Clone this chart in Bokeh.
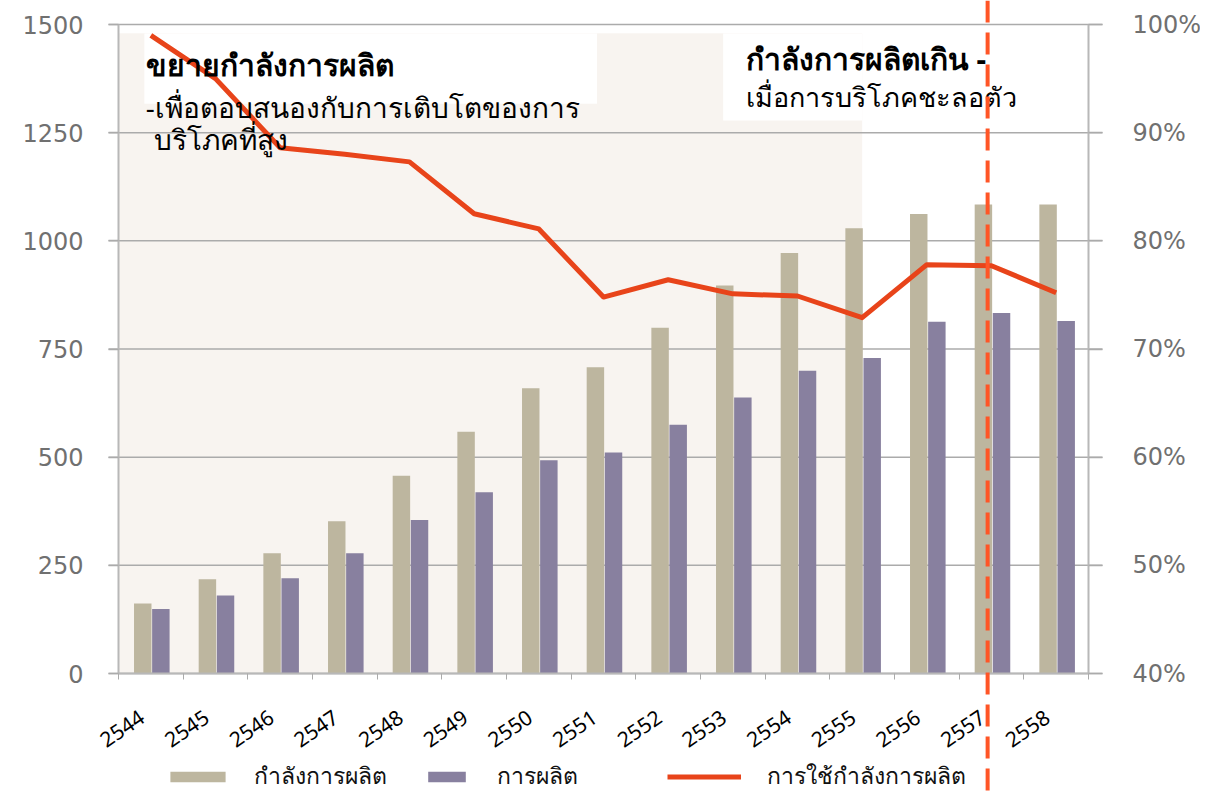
from bokeh.plotting import figure
from bokeh.models import (Range1d, LinearAxis, FixedTicker, BoxAnnotation, Label,
                          Legend, LegendItem, Span, ColumnDataSource,
                          PrintfTickFormatter, CustomJSTickFormatter)
from bokeh.transform import dodge
from bokeh.embed import file_html
from bokeh.resources import INLINE

# ---- data ----
years = ["2544", "2545", "2546", "2547", "2548", "2549", "2550", "2551",
         "2552", "2553", "2554", "2555", "2556", "2557", "2558"]
capacity = [162, 218, 278, 352, 457, 559, 659, 708, 799, 897, 972, 1029, 1062, 1084, 1084]
production = [149, 180, 220, 278, 355, 419, 493, 511, 575, 638, 700, 729, 813, 833, 815]
utilization = [99.0, 95.0, 88.6, 88.0, 87.3, 82.5, 81.1, 74.8, 76.4, 75.1, 74.9, 72.9, 77.8, 77.7, 75.2]
left_ticks = [0, 250, 500, 750, 1000, 1250, 1500]
right_ticks = [40, 50, 60, 70, 80, 90, 100]
legend_labels = ["กำลังการผลิต", "การผลิต", "การใช้กำลังการผลิต"]

TAN = "#bdb69f"
PURPLE = "#88809f"
RED = "#e8441a"
GRAY_TXT = "#707070"
GRAY_LINE = "#ababab"

# ---- layout geometry (pixels) ----
W, H = 1200, 796
LEFT, RIGHT = 118, 1088          # pixel columns of the left / right value axes
TOP_VAL_Y, ZERO_Y = 24, 673      # pixel rows of 1500 / 0
n = len(years)
cat_px = (RIGHT - LEFT) / n
px_per_unit = (ZERO_Y - TOP_VAL_Y) / 1500.0
px_per_pct = (ZERO_Y - TOP_VAL_Y) / 60.0
x_lo = -LEFT / cat_px
x_hi = n + (W - RIGHT) / cat_px
y_top = 1500 + TOP_VAL_Y / px_per_unit
y_bot = -(H - ZERO_Y) / px_per_unit
p_top = 100 + TOP_VAL_Y / px_per_pct
p_bot = 40 - (H - ZERO_Y) / px_per_pct

xs = [i + 0.5 for i in range(n)]
src = ColumnDataSource(dict(x=xs, cap=capacity, prod=production, util=utilization))

p = figure(width=W, height=H, x_range=Range1d(x_lo, x_hi), y_range=Range1d(y_bot, y_top),
           output_backend="svg", toolbar_location=None,
           min_border_left=0, min_border_right=0, min_border_top=0, min_border_bottom=0)
p.outline_line_color = None
p.background_fill_color = "white"
p.border_fill_color = "white"
p.grid.visible = False

p.extra_y_ranges = {"pct": Range1d(p_bot, p_top)}

# background shading & annotation boxes
p.add_layout(BoxAnnotation(left=0, right=11.5, bottom=0, top=1480, fill_color="#f8f4f0",
                           fill_alpha=1, line_color=None, level="image"))
p.add_layout(BoxAnnotation(left=0.4, right=7.4, bottom=1317, top=1479, fill_color="white",
                           fill_alpha=1, line_color=None, level="image"))
p.add_layout(BoxAnnotation(left=9.35, right=11.5, bottom=1278, top=1479, fill_color="white",
                           fill_alpha=1, line_color=None, level="image"))

# horizontal grid lines at the left-axis ticks
p.segment(x0=-10 / cat_px, x1=n + 14 / cat_px, y0=left_ticks, y1=left_ticks,
          line_color=GRAY_LINE, line_width=1.5)

# bars
r_cap = p.vbar(x=dodge("x", -0.125), top="cap", width=0.27, source=src,
               fill_color=TAN, line_color=None)
r_prod = p.vbar(x=dodge("x", 0.155), top="prod", width=0.27, source=src,
                fill_color=PURPLE, line_color=None)
# line
r_util = p.line(x="x", y="util", source=src, y_range_name="pct",
                line_color=RED, line_width=5, line_join="round")

# left axis (drawn at x = 0)
ya = p.yaxis[0]
ya.fixed_location = 0
ya.ticker = FixedTicker(ticks=left_ticks)
ya.bounds = (0, 1500)
ya.major_tick_out = 10
ya.major_tick_in = 0
ya.minor_tick_line_color = None
ya.major_tick_line_color = GRAY_LINE
ya.major_tick_line_width = 1.5
ya.axis_line_color = "#b8b8b8"
ya.axis_line_width = 2
ya.major_label_text_font = "DejaVu Sans"
ya.major_label_text_font_size = "24px"
ya.major_label_text_color = GRAY_TXT
ya.major_label_standoff = 25

# right axis (drawn at x = n)
ra = LinearAxis(y_range_name="pct", ticker=FixedTicker(ticks=right_ticks),
                formatter=PrintfTickFormatter(format="%d%%"), bounds=(40, 100),
                fixed_location=n)
ra.major_tick_out = 14
ra.major_tick_in = 0
ra.minor_tick_line_color = None
ra.major_tick_line_color = GRAY_LINE
ra.major_tick_line_width = 1.5
ra.axis_line_color = "#b8b8b8"
ra.axis_line_width = 2
ra.major_label_text_font = "DejaVu Sans"
ra.major_label_text_font_size = "24px"
ra.major_label_text_color = GRAY_TXT
ra.major_label_standoff = 30
p.add_layout(ra, "right")

# bottom axis (drawn at y = 0)
xa = p.xaxis[0]
xa.fixed_location = 0
xa.bounds = (0, n)
xa.ticker = FixedTicker(ticks=[i + 0.36 for i in range(n)], minor_ticks=list(range(n + 1)))
xa.formatter = CustomJSTickFormatter(args=dict(labels=years),
                                     code="return labels[Math.floor(tick)] || '';")
xa.major_tick_out = 0
xa.major_tick_in = 0
xa.minor_tick_out = 6
xa.minor_tick_in = 0
xa.minor_tick_line_color = GRAY_LINE
xa.axis_line_color = "#b8b8b8"
xa.axis_line_width = 2
xa.major_label_orientation = 0.6
xa.major_label_text_font = "Noto Sans"
xa.major_label_text_font_size = "21px"
xa.major_label_text_color = "black"
xa.major_label_standoff = 35

# annotation texts
def lab(x, y, text, bold=False, size="27px"):
    p.add_layout(Label(x=x, y=y, text=text, text_font="Noto Sans", text_font_size=size,
                       text_font_style="bold" if bold else "normal", text_color="black",
                       text_baseline="middle", text_align="left"))

lab(0.42, 1407, "ขยายกำลังการผลิต", bold=True, size="30px")
lab(0.42, 1310, "-เพื่อตอบสนองกับการเติบโตของการ", size="28px")
lab(0.55, 1235, "บริโภคที่สูง", size="28px")
lab(9.70, 1421, "กำลังการผลิตเกิน -", bold=True, size="30px")
lab(9.70, 1334, "เมื่อการบริโภคชะลอตัว", size="27px")

# dashed vertical divider
p.add_layout(Span(location=13.44, dimension="height", line_color="#ff5526",
                  line_width=4, line_dash="22 10"))

# legends (three separate single-item legends, at the bottom of the frame)
def leg(renderer, label, x, gw, gh, standoff):
    lg = Legend(items=[LegendItem(label=label, renderers=[renderer])],
                location=(x, 2), orientation="horizontal",
                glyph_width=gw, glyph_height=gh, label_standoff=standoff,
                padding=0, margin=0, spacing=0, border_line_color=None,
                background_fill_alpha=0, label_text_font="Noto Sans",
                label_text_font_size="23px", label_text_color="#111111",
                label_height=26)
    p.add_layout(lg, "center")

leg(r_cap, legend_labels[0], 163, 69, 13, 22)
leg(r_prod, legend_labels[1], 423, 47, 13, 27)
leg(r_util, legend_labels[2], 667, 74, 13, 26)

open("out.html", "w").write(file_html(p, INLINE))
